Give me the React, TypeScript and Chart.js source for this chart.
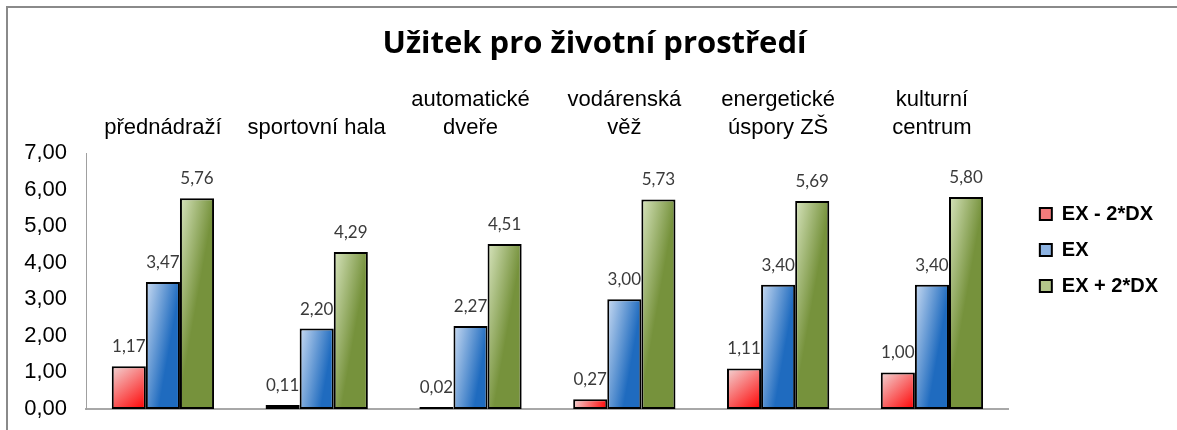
import React, { useEffect, useRef } from 'react';
import { Chart, registerables } from 'chart.js';

Chart.register(...registerables);

const chartTitle = 'Užitek pro životní prostředí';
const categories: (string | string[])[] = [
  'přednádraží',
  'sportovní hala',
  ['automatické', 'dveře'],
  ['vodárenská', 'věž'],
  ['energetické', 'úspory ZŠ'],
  ['kulturní', 'centrum'],
];
const seriesNames = ['EX - 2*DX', 'EX', 'EX + 2*DX'];
const exMinus2DX = [1.17, 0.11, 0.02, 0.27, 1.11, 1.0];
const exValues = [3.47, 2.2, 2.27, 3.0, 3.4, 3.4];
const exPlus2DX = [5.76, 4.29, 4.51, 5.73, 5.69, 5.8];
const yMin = 0;
const yMax = 7;
const yStep = 1;

const legendColors = ['#f37c7c', '#8db3e2', '#b3c78a'];
const gradientStops = [
  ['#f2d6d6', '#ff0000'],
  ['#c9dbf2', '#1f6bbf'],
  ['#d7e4bd', '#76923c'],
];

const fmt = (v: number) => Number(v).toFixed(2).replace('.', ',');

const decorPlugin = {
  id: 'decor',
  beforeDraw(chart: any) {
    const ctx = chart.ctx;
    ctx.save();
    ctx.fillStyle = '#ffffff';
    ctx.fillRect(0, 0, chart.width, chart.height);
    ctx.strokeStyle = '#8a8a8a';
    ctx.lineWidth = 2;
    ctx.strokeRect(7, 7, chart.width + 20, chart.height + 20);
    ctx.restore();
  },
  afterLayout(chart: any) {
    if (chart.legend) {
      chart.legend.left += 15;
      chart.legend.right += 15;
    }
    if (chart.titleBlock) {
      chart.titleBlock.left += 18;
      chart.titleBlock.right += 18;
    }
  },
  beforeDatasetsDraw(chart: any) {
    const ctx = chart.ctx;
    chart.data.datasets.forEach((ds: any, di: number) => {
      const meta = chart.getDatasetMeta(di);
      const stops = gradientStops[di];
      meta.data.forEach((el: any) => {
        const { x, y, base, width } = el.getProps(['x', 'y', 'base', 'width'], true);
        const x0 = x - width / 2;
        const x1 = x + width / 2;
        const g = di === 0
          ? ctx.createLinearGradient(x0, y, x1, base)
          : ctx.createLinearGradient(x0, y, x1, y + 6);
        g.addColorStop(0, stops[0]);
        g.addColorStop(1, stops[1]);
        el.options = Object.assign({}, el.options, { backgroundColor: g });
      });
    });
    // value labels drawn before bars so neighbouring bars overlap them
    ctx.save();
    ctx.font = '17px Lato';
    ctx.fillStyle = '#3a3a3a';
    ctx.textAlign = 'center';
    ctx.textBaseline = 'alphabetic';
    chart.data.datasets.forEach((ds: any, di: number) => {
      const meta = chart.getDatasetMeta(di);
      meta.data.forEach((el: any, i: number) => {
        ctx.fillText(fmt(ds.data[i]), el.x, el.y - 14);
      });
    });
    ctx.restore();
  },
};

export default function App() {
  const ref = useRef<HTMLCanvasElement | null>(null);

  useEffect(() => {
    if (!ref.current) return;
    const seriesData = [exMinus2DX, exValues, exPlus2DX];
    const chart = new Chart(ref.current, {
      type: 'bar',
      data: {
        labels: categories as any,
        datasets: seriesNames.map((name, i) => ({
          label: name,
          data: seriesData[i],
          backgroundColor: legendColors[i],
          borderColor: '#000000',
          borderWidth: 2,
          borderSkipped: false,
          barPercentage: 1,
          categoryPercentage: 0.665,
          minBarLength: 2,
        })),
      },
      plugins: [decorPlugin],
      options: {
        animation: false,
        responsive: false,
        devicePixelRatio: 1,
        layout: { padding: { left: 0, right: 24, top: 0, bottom: 0 } },
        font: { family: 'Liberation Sans' },
        scales: {
          x: {
            position: 'bottom',
            grid: { display: false, drawTicks: false },
            ticks: { display: false },
            border: { display: true, color: '#a8a8a8', width: 2 },
            afterFit: (s: any) => { s.height = 21; },
          },
          x2: {
            type: 'category',
            axis: 'x',
            position: 'top',
            labels: categories as any,
            offset: true,
            grid: { display: false, drawTicks: false },
            border: { display: false },
            ticks: {
              font: { family: 'Liberation Sans', size: 22, lineHeight: 1.23 },
              color: '#000000',
              padding: 12,
              maxRotation: 0,
              autoSkip: false,
            },
            afterFit: (s: any) => { s.height = 89.8; },
          },
          y: {
            min: yMin,
            max: yMax,
            grid: { display: false, drawTicks: false },
            border: { display: true, color: '#a0a0a0', width: 1 },
            ticks: {
              stepSize: yStep,
              callback: (v: any) => fmt(v),
              font: { family: 'Liberation Sans', size: 22 },
              color: '#000000',
              padding: 19,
            },
            afterFit: (s: any) => {
              s.width = 86;
              s.paddingTop = 0;
              s.paddingBottom = 0;
            },
          },
        } as any,
        plugins: {
          title: {
            display: true,
            text: chartTitle,
            font: { family: 'Open Sans', size: 31, weight: 'bold' },
            color: '#000000',
            padding: { top: 26, bottom: 0 },
          },
          legend: {
            position: 'right',
            align: 'start',
            fullSize: false,
            title: { display: true, text: ' ', font: { size: 10 }, padding: { top: 0, bottom: 23 } },
            labels: {
              boxWidth: 12,
              boxHeight: 12,
              padding: 16,
              color: '#000000',
              font: { family: 'Liberation Sans', size: 20, weight: 'bold' },
            },
          },
          tooltip: { enabled: false },
        },
      } as any,
    });
    return () => chart.destroy();
  }, []);

  return (
    <div style={{ position: 'fixed', left: 0, top: 0, width: 1177, height: 430, background: '#fff' }}>
      <canvas ref={ref} width={1177} height={430} style={{ display: 'block' }} />
    </div>
  );
}
